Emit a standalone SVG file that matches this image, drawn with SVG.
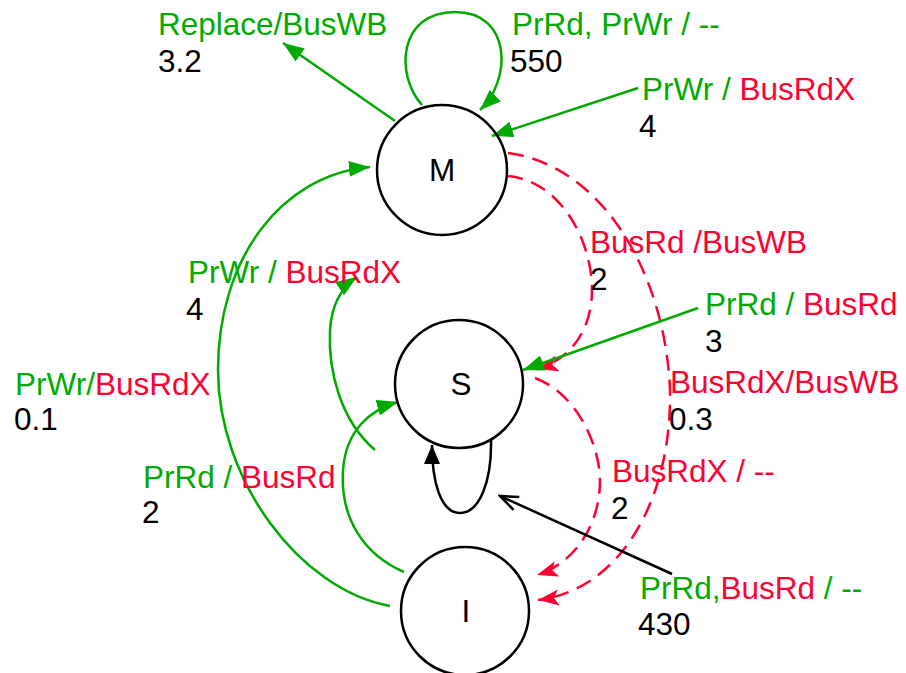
<svg xmlns="http://www.w3.org/2000/svg" width="906" height="673" viewBox="0 0 906 673">
<style>
text{font-family:"Liberation Sans",Arial,sans-serif;font-size:31.5px;fill:#000}
.g{fill:#00aa00}.r{fill:#ff0033}
.node{fill:none;stroke:#000;stroke-width:2.5}
.cg{fill:none;stroke:#00aa00;stroke-width:2.5}
.cr{fill:none;stroke:#ff0033;stroke-width:2.5;stroke-dasharray:16 9}
.ck{fill:none;stroke:#000;stroke-width:2.5}
</style>
<defs>
<marker id="ag" markerUnits="userSpaceOnUse" markerWidth="22" markerHeight="16" refX="21" refY="8" orient="auto"><path d="M0,0 L21,8 L0,16 z" fill="#00aa00"/></marker>
<marker id="ar" markerUnits="userSpaceOnUse" markerWidth="22" markerHeight="16" refX="21" refY="8" orient="auto"><path d="M0,0 L21,8 L0,16 L5,8 z" fill="#ff0033"/></marker>
<marker id="ak" markerUnits="userSpaceOnUse" markerWidth="20" markerHeight="16" refX="19" refY="8" orient="auto"><path d="M0,0 L19,8 L0,16 z" fill="#000"/></marker>
<marker id="akv" markerUnits="userSpaceOnUse" markerWidth="22" markerHeight="18" refX="20" refY="9" orient="auto"><path d="M2,2 L20,9 L2,16" fill="none" stroke="#000" stroke-width="2.5"/></marker>
</defs>
<g id="connectors">
<path class="cg" d="M422 105 C395 75 398 12 455 12 C512 12 512 80 480 110" marker-end="url(#ag)"/>
<path class="cg" d="M395 121 L283 43" marker-end="url(#ag)"/>
<path class="cg" d="M638 88 L492 136" marker-end="url(#ag)"/>
<path class="cr" d="M508 153 C600 165 665 270 670 390 C672 500 620 590 538 600" marker-end="url(#ar)"/>
<path class="cr" d="M507 176 C560 180 592 240 592 290 C592 330 570 360 537 369" marker-end="url(#ar)"/>
<path class="cr" d="M535 378 C580 395 600 450 600 480 C600 530 570 565 537 575" marker-end="url(#ar)"/>
<path class="cg" d="M698 308 L523 370" marker-end="url(#ag)"/>
<path class="ck" d="M491 439 C492 480 480 513 460 513 C440 513 432 480 432 445" marker-end="url(#ak)"/>
<path class="ck" d="M672 574 L500 496" marker-end="url(#akv)"/>
<path class="cg" d="M390 606 C300 590 218 480 218 370 C218 260 280 175 370 167" marker-end="url(#ag)"/>
<path class="cg" d="M375 450 C340 420 328 370 330 330 C332 300 345 285 357 277" marker-end="url(#ag)"/>
<path class="cg" d="M404 572 C365 555 340 520 343 470 C346 430 370 410 398 402" marker-end="url(#ag)"/>
</g>
<g id="node-M"><circle class="node" cx="442" cy="170" r="65"/><text x="442" y="181" text-anchor="middle">M</text></g>
<g id="node-S"><circle class="node" cx="459" cy="384" r="64"/><text x="461" y="395" text-anchor="middle">S</text></g>
<g id="node-I"><circle class="node" cx="465" cy="611" r="64"/><text x="466" y="622" text-anchor="middle">I</text></g>
<g id="labels">
<text x="158" y="35" class="g">Replace/BusWB</text>
<text x="158" y="72">3.2</text>
<text x="512" y="35" class="g">PrRd, PrWr / --</text>
<text x="510" y="72">550</text>
<text x="642" y="100"><tspan class="g">PrWr /</tspan><tspan class="r"> BusRdX</tspan></text>
<text x="639" y="137">4</text>
<text x="590" y="253" class="r">BusRd /BusWB</text>
<text x="590" y="290">2</text>
<text x="188" y="283"><tspan class="g">PrWr /</tspan><tspan class="r"> BusRdX</tspan></text>
<text x="186" y="320">4</text>
<text x="705" y="315"><tspan class="g">PrRd /</tspan><tspan class="r"> BusRd</tspan></text>
<text x="705" y="352">3</text>
<text x="15" y="395"><tspan class="g">PrWr/</tspan><tspan class="r">BusRdX</tspan></text>
<text x="14" y="430">0.1</text>
<text x="670" y="393" class="r">BusRdX/BusWB</text>
<text x="669" y="430">0.3</text>
<text x="143" y="488"><tspan class="g">PrRd /</tspan><tspan class="r"> BusRd</tspan></text>
<text x="142" y="523">2</text>
<text x="612" y="482" class="r">BusRdX / --</text>
<text x="611" y="519">2</text>
<text x="640" y="599"><tspan class="g">PrRd,</tspan><tspan class="r">BusRd</tspan><tspan class="g"> / --</tspan></text>
<text x="638" y="635">430</text>
</g>
</svg>
